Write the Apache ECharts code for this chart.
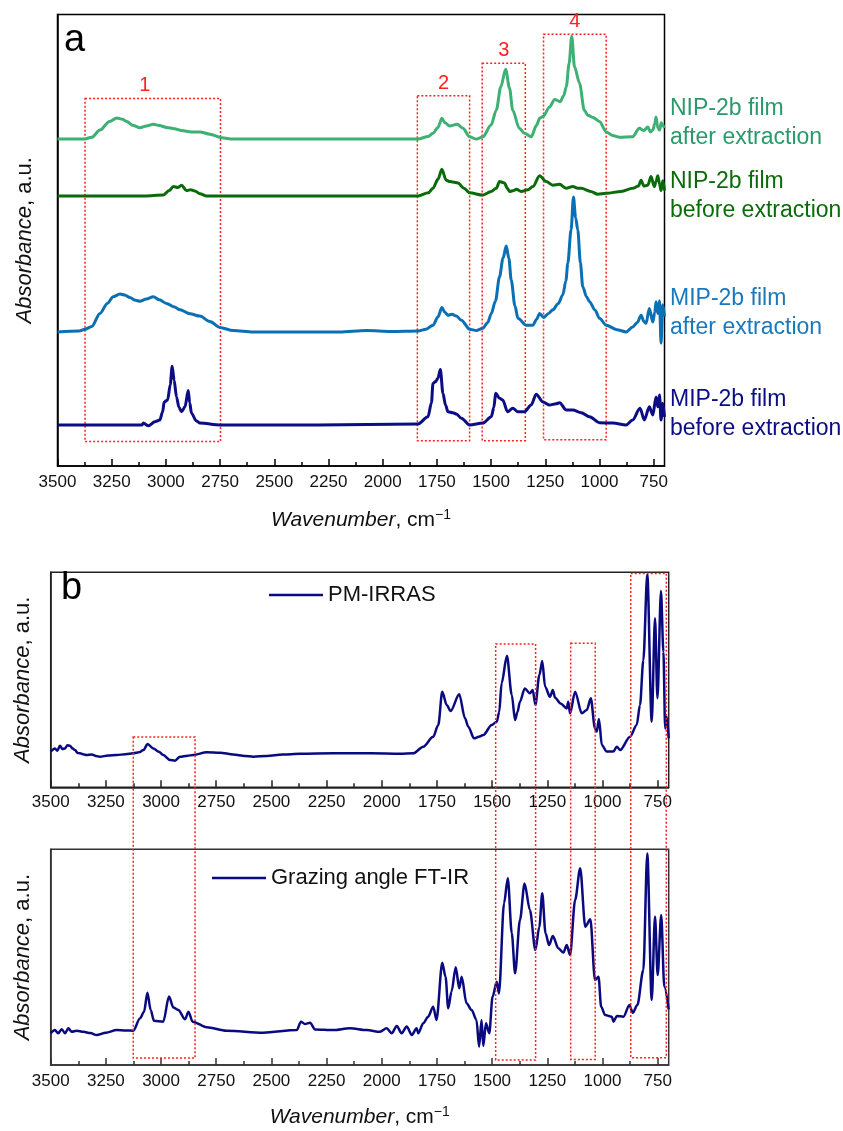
<!DOCTYPE html>
<html>
<head>
<meta charset="utf-8">
<script src="https://cdn.jsdelivr.net/npm/echarts@6/dist/echarts.min.js"></script>
<style>
  html, body { margin: 0; padding: 0; background: #fff; }
  #chart { width: 843px; height: 1131px; }
</style>
</head>
<body>
<div id="chart"></div>
<script>
// Wavenumber axis ticks (cm^-1)
const majorTicks = [3500, 3250, 3000, 2750, 2500, 2250, 2000, 1750, 1500, 1250, 1000, 750];
const minorTicks = [3375, 3125, 2875, 2625, 2375, 2125, 1875, 1625, 1375, 1125, 875];

// Panel a: transmission spectra, traces offset vertically (arbitrary units)
const nipAfter = [
  [3500,72.4],[3380,72.4],[3342,72.8],[3304,74.4],[3260,76.3],[3227,77.1],[3200,76.8],[3181,76.3],[3150,75.4],
  [3120,74.9],[3090,75.3],[3058,75.7],[3030,75.4],[2997,75.0],[2960,74.7],[2928,74.3],[2882,74.0],[2843,74.0],
  [2797,73.5],[2743,72.7],[2690,72.4],[2300,72.4],[1837,72.4],[1790,73.0],[1768,73.7],[1745,75.0],[1727,77.0],
  [1712,76.0],[1691,75.3],[1656,75.7],[1630,74.8],[1599,72.9],[1568,72.4],[1538,72.9],[1500,75.5],[1476,78.8],
  [1455,84.0],[1433,87.9],[1415,83.7],[1400,78.8],[1370,74.8],[1346,73.7],[1315,72.9],[1290,75.5],[1276,77.0],
  [1261,77.4],[1230,79.5],[1207,81.2],[1181,80.7],[1165,82.0],[1153,84.0],[1140,89.2],[1128,95.2],[1115,88.4],
  [1092,84.8],[1070,78.8],[1054,77.7],[1030,77.2],[1000,76.3],[969,74.0],[940,73.2],[908,72.8],[847,72.9],
  [816,74.8],[795,74.3],[777,75.1],[765,74.0],[754,74.4],[745,75.8],[739,77.3],[731,74.9],[723,74.4],[715,76.0],
  [708,75.5],[700,74.9]
];
const nipBefore = [
  [3500,59.8],[3100,59.8],[3012,60.0],[2985,61.0],[2966,61.9],[2945,61.7],[2928,62.2],[2905,61.0],[2885,61.2],
  [2866,60.9],[2843,60.3],[2812,59.8],[2300,59.8],[1837,59.8],[1790,60.5],[1768,61.5],[1745,63.5],[1727,65.7],
  [1707,63.3],[1690,63.0],[1676,62.9],[1653,62.7],[1625,61.5],[1599,60.5],[1538,60.0],[1500,60.8],[1476,61.5],
  [1461,63.0],[1438,62.7],[1425,61.5],[1415,60.8],[1395,61.0],[1384,61.3],[1361,60.8],[1330,61.2],[1307,61.9],
  [1276,64.3],[1246,63.0],[1215,62.2],[1184,62.4],[1153,61.5],[1123,61.9],[1100,61.5],[1084,61.5],[1040,60.8],
  [1008,60.2],[969,60.4],[900,60.8],[847,61.5],[820,62.0],[808,63.3],[795,62.0],[777,62.2],[762,64.1],[747,61.9],
  [739,63.0],[731,64.3],[723,62.5],[716,61.0],[708,63.2],[704,62.6],[700,61.0]
];
const mipAfter = [
  [3500,29.7],[3400,29.9],[3373,30.3],[3342,30.9],[3304,33.8],[3270,36.0],[3243,37.5],[3212,38.1],[3190,37.9],
  [3166,37.3],[3140,36.7],[3120,36.5],[3090,37.0],[3058,37.5],[3030,36.8],[2997,36.0],[2960,35.2],[2935,34.6],
  [2889,33.7],[2843,33.2],[2797,32.0],[2751,30.7],[2690,30.0],[2598,29.7],[2200,29.7],[2075,30.0],[1960,29.8],
  [1837,29.9],[1800,30.3],[1768,31.2],[1745,33.0],[1727,35.1],[1712,34.0],[1699,33.4],[1680,33.6],[1660,33.2],
  [1637,32.3],[1599,30.3],[1568,30.0],[1538,30.5],[1515,31.8],[1499,33.8],[1480,36.5],[1461,41.9],[1445,46.0],
  [1430,48.7],[1418,46.0],[1407,41.2],[1390,35.5],[1376,32.7],[1338,31.2],[1307,31.2],[1290,32.5],[1276,33.8],
  [1258,32.9],[1235,33.8],[1215,34.6],[1190,36.0],[1169,37.9],[1155,41.0],[1146,44.9],[1131,52.3],[1120,59.6],
  [1110,55.0],[1100,52.3],[1088,45.0],[1077,39.7],[1060,37.5],[1046,36.4],[1020,34.5],[1000,32.7],[969,31.2],
  [920,30.2],[877,29.7],[847,30.8],[825,31.8],[808,33.4],[795,32.0],[785,31.6],[770,34.9],[754,31.9],[745,34.0],
  [739,36.4],[731,33.8],[723,36.6],[716,27.2],[708,35.7],[700,33.1]
];
const mipBefore = [
  [3500,9.1],[3110,9.1],[3104,9.5],[3081,8.9],[3051,9.8],[3028,10.2],[3015,12.0],[3008,14.2],[2992,14.6],
  [2980,18.0],[2971,22.1],[2962,19.0],[2951,15.3],[2940,13.0],[2928,12.0],[2912,13.1],[2897,16.7],[2890,14.0],
  [2882,11.7],[2860,10.0],[2843,9.5],[2751,9.1],[2300,9.1],[1837,9.3],[1791,10.9],[1775,14.0],[1768,18.3],
  [1756,18.7],[1745,19.5],[1734,21.4],[1722,16.1],[1710,13.5],[1699,12.0],[1676,11.8],[1660,11.5],[1637,10.6],
  [1599,9.1],[1538,9.5],[1499,10.9],[1487,13.0],[1479,16.1],[1461,15.0],[1446,14.6],[1424,12.0],[1400,12.8],
  [1376,12.0],[1346,12.0],[1315,13.5],[1292,15.9],[1261,14.2],[1230,13.5],[1200,13.8],[1184,14.0],[1153,12.4],
  [1123,12.4],[1084,11.8],[1046,10.9],[1000,9.6],[938,9.5],[877,9.1],[847,10.2],[813,12.8],[793,10.2],[770,13.1],
  [754,11.3],[739,15.3],[731,13.1],[723,15.7],[716,10.2],[708,13.9],[700,10.9]
];

// Panel b: PM-IRRAS and grazing-angle FT-IR spectra (arbitrary units)
const pmIrras = [
  [3500,16.6],[3481,18.1],[3470,17.0],[3458,19.3],[3447,17.8],[3435,18.1],[3424,19.6],[3413,19.3],[3400,18.0],
  [3390,17.3],[3378,16.0],[3367,15.8],[3350,15.3],[3337,15.0],[3314,15.3],[3295,14.6],[3277,14.2],[3240,14.8],
  [3201,15.0],[3160,15.4],[3126,15.8],[3100,16.3],[3080,17.3],[3061,20.1],[3035,18.1],[3010,16.5],[2990,15.0],
  [2959,12.7],[2937,12.4],[2914,14.2],[2880,14.7],[2854,15.0],[2793,16.3],[2733,16.1],[2673,15.3],[2620,14.6],
  [2582,14.2],[2521,14.6],[2450,15.2],[2370,15.6],[2220,15.8],[2050,15.8],[1917,15.6],[1857,15.8],[1812,18.9],
  [1767,23.5],[1744,29.0],[1726,44.5],[1706,38.3],[1688,35.5],[1649,43.3],[1623,32.1],[1608,28.2],[1582,22.8],
  [1560,23.5],[1540,24.3],[1502,29.0],[1479,30.5],[1468,35.0],[1457,48.4],[1433,61.2],[1411,42.9],[1396,31.3],
  [1385,35.0],[1374,39.8],[1352,46.0],[1329,43.7],[1316,45.3],[1304,38.3],[1286,52.2],[1273,58.7],[1260,46.8],
  [1238,42.1],[1225,45.3],[1215,41.7],[1190,39.0],[1162,36.7],[1155,39.8],[1147,34.4],[1124,44.5],[1094,34.4],
  [1071,36.0],[1053,41.4],[1034,27.4],[1026,25.9],[1016,31.8],[1003,19.7],[981,16.6],[951,16.6],[935,18.9],
  [920,17.3],[875,23.5],[845,29.0],[830,38.3],[815,59.0],[797,99.1],[777,30.5],[762,78.6],[751,41.4],[735,91.3],
  [724,63.1],[716,27.4],[709,32.8],[700,22.8]
];
const grazingFtir = [
  [3500,14.7],[3481,16.2],[3466,14.7],[3450,16.6],[3435,14.7],[3420,17.0],[3405,15.4],[3382,15.9],[3352,15.4],
  [3320,14.8],[3292,13.9],[3250,15.0],[3201,16.2],[3160,16.0],[3126,15.9],[3095,21.7],[3077,24.7],[3062,33.5],
  [3047,25.5],[3032,20.5],[2990,20.1],[2964,31.7],[2944,26.6],[2922,25.5],[2891,21.2],[2876,24.7],[2857,20.1],
  [2793,17.5],[2703,15.9],[2537,15.0],[2385,16.2],[2366,20.1],[2348,19.0],[2325,19.6],[2302,16.5],[2220,16.2],
  [2144,17.0],[2068,16.2],[2008,15.4],[1978,17.0],[1955,14.7],[1932,18.1],[1910,14.7],[1887,17.8],[1864,13.9],
  [1842,17.0],[1835,14.7],[1812,19.3],[1790,22.4],[1767,27.0],[1752,20.9],[1726,47.4],[1711,40.9],[1699,26.3],
  [1684,34.0],[1665,45.3],[1649,35.6],[1638,40.9],[1616,28.6],[1593,25.5],[1571,20.9],[1559,8.5],[1548,20.9],
  [1540,8.8],[1528,19.3],[1513,14.7],[1498,31.7],[1479,38.6],[1469,33.2],[1446,75.0],[1429,86.6],[1411,61.1],
  [1396,42.5],[1374,67.2],[1353,84.2],[1329,71.9],[1304,53.3],[1286,64.1],[1273,79.6],[1258,61.1],[1242,55.6],
  [1225,59.8],[1200,54.1],[1177,52.1],[1162,55.6],[1147,51.0],[1124,76.5],[1101,91.2],[1078,64.1],[1055,67.6],
  [1034,39.4],[1018,40.9],[1006,27.0],[988,23.2],[958,22.4],[950,20.1],[935,22.7],[905,22.4],[878,27.8],
  [863,24.2],[842,27.8],[815,44.0],[797,98.1],[777,30.1],[762,68.8],[750,41.7],[734,69.5],[720,36.3],[700,25.8]
];

// Highlighted bands: [from, to, upper value, lower value, tag]
const bandsA = [
  [3373, 2748, 81.4, 5.4, '1'],
  [1840, 1599, 82.0, 5.6, '2'],
  [1541, 1342, 89.2, 5.6, '3'],
  [1258, 969, 95.6, 5.8, '4']
];
// Bands across both panel-b plots: [from, to, upper value (PM-IRRAS), lower value (FT-IR)]
const bandsB = [
  [3126, 2846, 23.4, 3.2],
  [1484, 1303, 66.7, 2.3],
  [1144, 1033, 67.0, 2.6],
  [872, 711, 99.5, 3.4]
];

const traceLabels = [
  { text: 'NIP-2b film\nafter extraction', color: '#2a9a6a' },
  { text: 'NIP-2b film\nbefore extraction', color: '#0b6b0b' },
  { text: 'MIP-2b film\nafter extraction', color: '#1a78bd' },
  { text: 'MIP-2b film\nbefore extraction', color: '#0c0c85' }
];

const FONT = '"Liberation Sans", Arial, Helvetica, sans-serif';
const RED = '#ff2020';
const xName = '{i|Wavenumber}, cm{s|\u22121}';
const xNameStyle = {
  fontSize: 21, color: '#111', fontFamily: FONT, lineHeight: 24,
  rich: {
    i: { fontStyle: 'italic', fontSize: 21, color: '#111', fontFamily: FONT, lineHeight: 24 },
    s: { fontSize: 14, color: '#111', fontFamily: FONT, verticalAlign: 'top', lineHeight: 14 }
  }
};
const yName = '{i|Absorbance}, a.u.';
const yNameStyle = {
  fontSize: 22, color: '#111', fontFamily: FONT,
  rich: { i: { fontStyle: 'italic', fontSize: 22, color: '#111', fontFamily: FONT } }
};

const grids = [
  { left: 57.5, top: 14.5, width: 607, height: 451.5, color: '#000', labelMargin: 8, withName: true, nameGap: 42, yGap: 22 },
  { left: 50.7, top: 572.3, width: 618, height: 215, color: '#222', labelMargin: 7, withName: false, yGap: 17 },
  { left: 50.7, top: 849.3, width: 618, height: 215.7, color: '#333', labelMargin: 8, withName: true, nameGap: 40, yGap: 17 }
];

const xAxes = [];
const yAxes = [];
grids.forEach((g, i) => {
  xAxes.push({
    gridIndex: i, type: 'value', min: 700, max: 3500, inverse: true,
    axisLine: { show: true, onZero: false, lineStyle: { color: g.color, width: 1.5 } },
    axisTick: { show: true, inside: true, length: 7, customValues: majorTicks, lineStyle: { color: g.color, width: 1.5 } },
    axisLabel: {
      show: true, customValues: majorTicks, fontSize: 17, color: '#111', fontFamily: FONT,
      margin: g.labelMargin, formatter: v => String(v)
    },
    splitLine: { show: false },
    name: g.withName ? xName : '', nameLocation: 'middle', nameGap: g.nameGap || 40, nameTextStyle: xNameStyle
  });
  xAxes.push({
    gridIndex: i, type: 'value', min: 700, max: 3500, inverse: true, position: 'bottom',
    axisLine: { show: false },
    axisTick: { show: true, inside: true, length: 4, customValues: minorTicks, lineStyle: { color: g.color, width: 1.5 } },
    axisLabel: { show: false }, splitLine: { show: false }
  });
  yAxes.push({
    gridIndex: i, type: 'value', min: 0, max: 100,
    axisLine: { show: true, lineStyle: { color: g.color, width: 1.5 } },
    axisTick: { show: false }, axisLabel: { show: false }, splitLine: { show: false },
    name: yName, nameLocation: 'middle', nameRotate: 90, nameGap: g.yGap, nameTextStyle: yNameStyle
  });
});

function lineSeries(name, data, color, width, xi, yi, extra) {
  return Object.assign({
    name: name, type: 'line', data: data, xAxisIndex: xi, yAxisIndex: yi,
    symbol: 'none', showSymbol: false, smooth: 0.3, smoothMonotone: 'x',
    lineStyle: { color: color, width: width }, itemStyle: { color: color },
    silent: true, animation: false
  }, extra || {});
}

const option = {
  animation: false,
  textStyle: { fontFamily: FONT },
  grid: grids.map(g => ({
    left: g.left, top: g.top, width: g.width, height: g.height,
    show: true, borderColor: g.color, borderWidth: 1.5, backgroundColor: 'transparent'
  })),
  xAxis: xAxes,
  yAxis: yAxes,
  legend: [
    {
      data: ['PM-IRRAS'], left: 264, top: 579, icon: 'rect', itemWidth: 54, itemHeight: 2.5,
      selectedMode: false, textStyle: { fontSize: 22, color: '#111', fontFamily: FONT }
    },
    {
      data: ['Grazing angle FT-IR'], left: 207, top: 862, icon: 'rect', itemWidth: 54, itemHeight: 2.5,
      selectedMode: false, textStyle: { fontSize: 22, color: '#111', fontFamily: FONT }
    }
  ],
  series: [
    lineSeries('NIP-2b film after extraction', nipAfter, '#3db073', 3, 0, 0),
    lineSeries('NIP-2b film before extraction', nipBefore, '#0b6b0b', 3, 0, 0),
    lineSeries('MIP-2b film after extraction', mipAfter, '#0a6fb3', 3, 0, 0),
    lineSeries('MIP-2b film before extraction', mipBefore, '#0c0c85', 3, 0, 0, {
      markArea: {
        silent: true,
        itemStyle: { color: 'rgba(0,0,0,0)', borderColor: RED, borderWidth: 1.5, borderType: [2, 2] },
        label: { show: true, position: 'top', distance: 2, color: RED, fontSize: 20, fontFamily: FONT },
        data: bandsA.map(b => [
          { name: b[4], xAxis: b[0], yAxis: b[2], label: b[4] === '1' ? { offset: [-8, 0] } : undefined },
          { xAxis: b[1], yAxis: b[3] }
        ])
      }
    }),
    lineSeries('PM-IRRAS', pmIrras, '#0a0a80', 2.5, 2, 1),
    lineSeries('Grazing angle FT-IR', grazingFtir, '#0a0a80', 2.5, 4, 2)
  ]
};

const chart = echarts.init(document.getElementById('chart'), null, { renderer: 'canvas' });
chart.setOption(option);

// Panel letters, trace captions and bands spanning both panel-b plots
const labelTops = [94, 167.5, 284, 385];
const graphics = [
  { type: 'text', left: 64, top: 22, silent: true,
    style: { text: 'a', fontSize: 38, fontFamily: FONT, fill: '#000' } },
  { type: 'text', left: 61, top: 570, silent: true,
    style: { text: 'b', fontSize: 38, fontFamily: FONT, fill: '#000' } }
];
traceLabels.forEach((t, i) => {
  graphics.push({
    type: 'text', left: 670, top: labelTops[i], silent: true,
    style: { text: t.text, fontSize: 23, lineHeight: 29, fontFamily: FONT, fill: t.color }
  });
});
bandsB.forEach(b => {
  const p1 = chart.convertToPixel({ xAxisIndex: 2, yAxisIndex: 1 }, [b[0], b[2]]);
  const p2 = chart.convertToPixel({ xAxisIndex: 4, yAxisIndex: 2 }, [b[1], b[3]]);
  graphics.push({
    type: 'rect', silent: true, z: 100,
    shape: { x: Math.min(p1[0], p2[0]), y: p1[1], width: Math.abs(p2[0] - p1[0]), height: p2[1] - p1[1] },
    style: { fill: 'none', stroke: RED, lineWidth: 1.5, lineDash: [2, 2] }
  });
});
chart.setOption({ graphic: graphics });
</script>
</body>
</html>
